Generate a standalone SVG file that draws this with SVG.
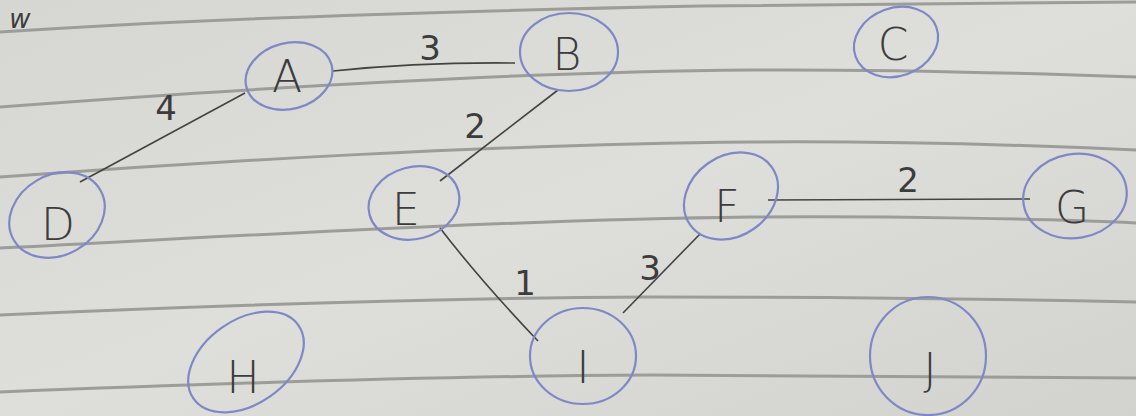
<svg xmlns="http://www.w3.org/2000/svg" width="1136" height="416" viewBox="0 0 1136 416">
<defs>
<linearGradient id="paper" x1="0" y1="0" x2="1" y2="1">
<stop offset="0" stop-color="#d6d6d2"/>
<stop offset="0.5" stop-color="#dededa"/>
<stop offset="1" stop-color="#d2d2ce"/>
</linearGradient>
<style>
.rule{fill:none;stroke:#9c9c99;stroke-width:3}
.node ellipse{fill:none;stroke:#7f88c6;stroke-width:2.2}
.lbl{font-family:"DejaVu Sans","Liberation Sans",sans-serif;font-size:44px;fill:#3c3c3c;text-anchor:middle;font-weight:200}
.w{font-family:"DejaVu Sans","Liberation Sans",sans-serif;font-size:34px;fill:#3c3c3c;text-anchor:middle}
.edge{fill:none;stroke:#434343;stroke-width:1.6}
</style>
</defs>
<rect width="1136" height="416" fill="url(#paper)"/>
<g id="paper-lines">
<path class="rule" d="M0,32 C150,22 400,12 700,6 C900,3 1050,2 1136,2"/>
<path class="rule" d="M0,107 C200,92 500,72 750,70 C900,69 1050,74 1136,77"/>
<path class="rule" d="M0,177 C200,162 500,144 750,142 C900,141 1050,146 1136,150"/>
<path class="rule" d="M0,248 C200,238 500,220 750,217 C900,216 1050,219 1136,223"/>
<path class="rule" d="M0,315 C200,306 450,298 650,297 C850,297 1000,299 1136,302"/>
<path class="rule" d="M0,392 C200,384 450,376 650,375 C850,375 1000,376 1136,378"/>
</g>
<text class="w" x="20" y="28" style="font-size:26px;font-style:italic">w</text>
<g id="connectors">
<path class="edge" d="M333,71 Q420,62 515,63"/>
<path class="edge" d="M245,93 L80,182"/>
<path class="edge" d="M558,90 L440,181"/>
<path class="edge" d="M440,228 Q480,280 538,341"/>
<path class="edge" d="M623,313 L700,234"/>
<path class="edge" d="M768,200 L1030,199"/>
<text class="w" x="430" y="60">3</text>
<text class="w" x="166" y="120">4</text>
<text class="w" x="475" y="138">2</text>
<text class="w" x="525" y="295">1</text>
<text class="w" x="650" y="280">3</text>
<text class="w" x="908" y="192">2</text>
</g>
<g id="node-A" class="node"><ellipse cx="289" cy="76" rx="44" ry="33" transform="rotate(-15 289 76)"/><text class="lbl" x="287" y="92">A</text></g>
<g id="node-B" class="node"><ellipse cx="569" cy="52" rx="49" ry="39"/><text class="lbl" x="567" y="70">B</text></g>
<g id="node-C" class="node"><ellipse cx="896" cy="42" rx="43" ry="34" transform="rotate(-20 896 42)"/><text class="lbl" x="893" y="60">C</text></g>
<g id="node-D" class="node"><ellipse cx="57" cy="215" rx="50" ry="40" transform="rotate(-30 57 215)"/><text class="lbl" x="58" y="240">D</text></g>
<g id="node-E" class="node"><ellipse cx="414" cy="203" rx="46" ry="36" transform="rotate(-15 414 203)"/><text class="lbl" x="406" y="225">E</text></g>
<g id="node-F" class="node"><ellipse cx="731" cy="196" rx="50" ry="40" transform="rotate(-35 731 196)"/><text class="lbl" x="727" y="222">F</text></g>
<g id="node-G" class="node"><ellipse cx="1075" cy="196" rx="52" ry="42" transform="rotate(-10 1075 196)"/><text class="lbl" x="1072" y="223">G</text></g>
<g id="node-H" class="node"><ellipse cx="246" cy="362" rx="64" ry="42" transform="rotate(-35 246 362)"/><text class="lbl" x="243" y="393">H</text></g>
<g id="node-I" class="node"><ellipse cx="583" cy="356" rx="53" ry="48"/><text class="lbl" x="583" y="383">I</text></g>
<g id="node-J" class="node"><ellipse cx="928" cy="356" rx="58" ry="59"/><text class="lbl" x="930" y="385">J</text></g>
</svg>
